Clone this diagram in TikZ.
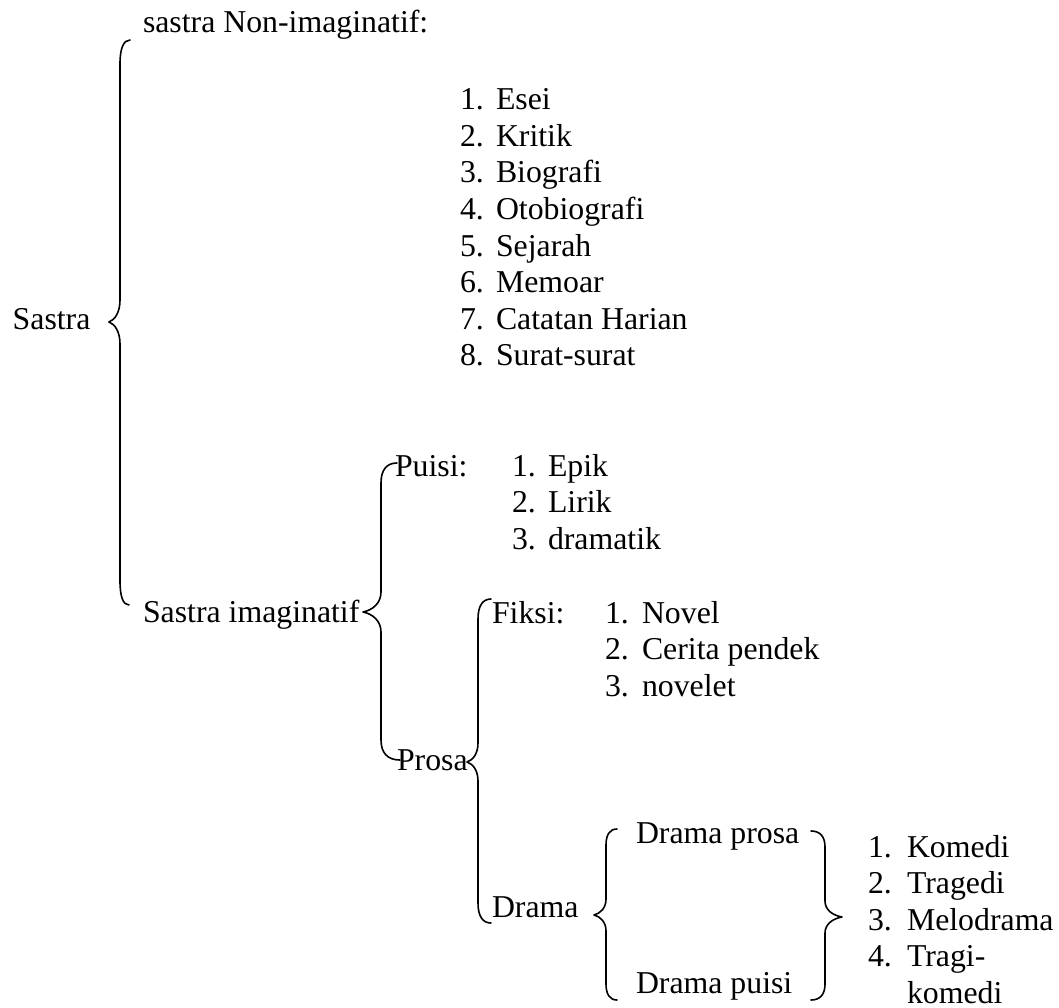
\documentclass[tikz,border=0pt]{standalone}
\usepackage{fontspec}
\setmainfont{Liberation Serif}
\tikzset{
  lbl/.style={anchor=base west, inner sep=0pt, outer sep=0pt, font=\fontsize{31.8}{36}\selectfont},
  bracepath/.style={line width=1.6pt, line cap=round, line join=round}
}
% #1 top end x, #2 top y, #3 vertical x, #4 tip x, #5 tip y, #6 bottom end x, #7 bottom y, #8 end radius, #9 tip radius
\newcommand\mybrace[9]{%
  \draw[bracepath] (#1,#2) .. controls ({#3+0.35*(#1-#3)},#2) and (#3,{#2+0.35*#8}) .. (#3,#2+#8)
    -- (#3,#5-#9)
    .. controls (#3,{#5-0.45*#9}) and ({#3+0.45*(#4-#3)},{#5-0.1*#9}) .. (#4,#5)
    .. controls ({#3+0.45*(#4-#3)},{#5+0.1*#9}) and (#3,{#5+0.45*#9}) .. (#3,#5+#9)
    -- (#3,#7-#8) .. controls (#3,{#7-0.35*#8}) and ({#3+0.35*(#6-#3)},#7) .. (#6,#7);}
\begin{document}
\begin{tikzpicture}[x={(1pt,0pt)}, y={(0pt,-1pt)}]
\useasboundingbox (0,0) rectangle (1059,1008);

% top level
\node[lbl] (sastra) at (12.7,329) {Sastra};
\node[lbl] (nonimag) at (143,33) {sastra Non-imaginatif:};
\node[lbl] (imag) at (143,622) {Sastra imaginatif};

\foreach \t [count=\i] in {Esei,Kritik,Biografi,Otobiografi,Sejarah,Memoar,Catatan Harian,Surat-surat}{
  \node[lbl] (na\i) at (460,{110+36.5*(\i-1)}) {\i.};
  \node[lbl] (ta\i) at (496,{110+36.5*(\i-1)}) {\t};
}

% imaginatif
\node[lbl] (puisi) at (395,476) {Puisi:};
\foreach \t [count=\i] in {Epik,Lirik,dramatik}{
  \node[lbl] (nb\i) at (512,{476+36.5*(\i-1)}) {\i.};
  \node[lbl] (tb\i) at (548,{476+36.5*(\i-1)}) {\t};
}
\node[lbl] (prosa) at (397,770) {Prosa};
\node[lbl] (fiksi) at (492,623) {Fiksi:};
\foreach \t [count=\i] in {Novel,Cerita pendek,novelet}{
  \node[lbl] (nc\i) at (605,{623+36.5*(\i-1)}) {\i.};
  \node[lbl] (tc\i) at (642,{623+36.5*(\i-1)}) {\t};
}
\node[lbl] (drama) at (492,917) {Drama};
\node[lbl] (dprosa) at (636,843) {Drama prosa};
\node[lbl] (dpuisi) at (636,993) {Drama puisi};
\foreach \t [count=\i] in {Komedi,Tragedi,Melodrama,Tragi-}{
  \node[lbl] (nd\i) at (868,{857+36.5*(\i-1)}) {\i.};
  \node[lbl] (td\i) at (907,{857+36.5*(\i-1)}) {\t};
}
\node[lbl] (td5) at (907,1003) {komedi};

% braces
\mybrace{130}{40}{120}{109}{322}{129}{605}{24}{22}
\mybrace{397}{463}{381}{363}{612}{400}{760}{20}{20}
\mybrace{491}{599}{478}{467}{762}{491}{923}{20}{19}
\mybrace{617}{829}{606}{594}{915}{617}{1000}{16}{16}
\mybrace{811}{831}{825}{842}{917}{811}{1000}{16}{16}
\end{tikzpicture}
\end{document}
